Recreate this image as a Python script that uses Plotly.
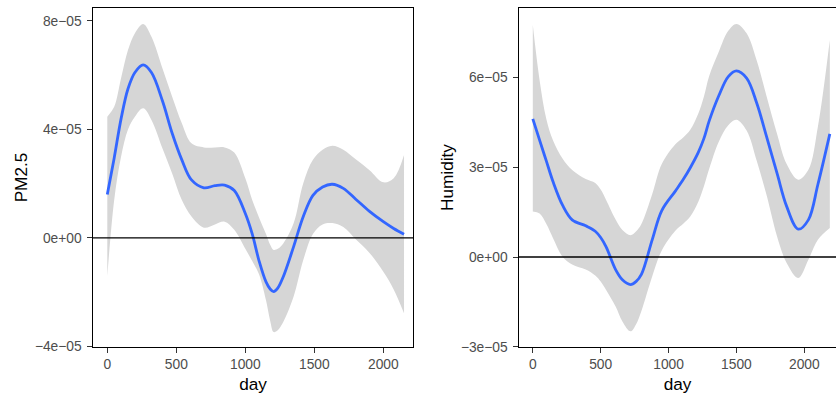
import plotly.graph_objects as go

# ---------------- data: PM2.5 panel ----------------
pm_day = [0, 50, 100, 150, 200, 260, 320, 400, 470, 540, 610, 700, 780, 850, 920,
          1000, 1050, 1100, 1150, 1180, 1205, 1235, 1275, 1350, 1420, 1490, 1560,
          1630, 1710, 1800, 1900, 2000, 2075, 2150]
pm_fit = [1.60, 2.95, 4.40, 5.50, 6.10, 6.38, 6.10, 5.05, 3.86, 2.88, 2.14, 1.85, 1.93,
          1.95, 1.75, 0.90, 0.15, -0.85, -1.62, -1.88, -1.98, -1.85, -1.43, -0.32, 0.79,
          1.57, 1.88, 1.98, 1.83, 1.43, 0.98, 0.60, 0.35, 0.14]
pm_upper = [4.47, 4.84, 5.90, 6.93, 7.55, 7.89, 7.42, 6.25, 5.21, 4.23, 3.49, 3.34, 3.34,
            3.34, 3.15, 2.20, 1.40, 0.75, 0.15, -0.25, -0.44, -0.40, -0.20, 0.54, 2.02,
            2.88, 3.25, 3.40, 3.25, 2.90, 2.50, 2.05, 2.20, 3.06]
pm_lower = [-1.40, 1.40, 3.00, 4.00, 4.47, 4.78, 4.35, 3.30, 2.38, 1.40, 0.79, 0.38, 0.50,
            0.60, 0.30, -0.40, -0.85, -1.35, -2.30, -3.05, -3.47, -3.40, -3.10, -2.16,
            -0.81, 0.15, 0.50, 0.55, 0.40, -0.05, -0.55, -1.25, -1.90, -2.78]

# ---------------- data: Humidity panel ----------------
hu_day = [0, 50, 100, 150, 220, 290, 390, 460, 500, 540, 610, 660, 720, 760, 800, 880,
          950, 1050, 1110, 1160, 1220, 1260, 1300, 1370, 1440, 1500, 1575, 1650, 1720,
          1800, 1870, 1955, 2030, 2100, 2188]
hu_fit = [4.61, 3.90, 3.20, 2.50, 1.72, 1.24, 1.04, 0.86, 0.65, 0.34, -0.42, -0.76,
          -0.92, -0.82, -0.58, 0.58, 1.55, 2.20, 2.60, 2.98, 3.50, 3.95, 4.55, 5.38,
          6.02, 6.21, 5.97, 5.13, 4.05, 2.78, 1.69, 0.93, 1.24, 2.42, 4.11]
hu_upper = [7.74, 5.90, 4.60, 3.88, 3.28, 2.90, 2.60, 2.47, 2.25, 1.90, 1.25, 0.90,
            0.73, 0.85, 1.10, 2.10, 3.10, 3.76, 4.00, 4.25, 4.80, 5.35, 6.05, 6.85, 7.55,
            7.78, 7.47, 6.55, 5.40, 4.10, 3.10, 2.58, 2.91, 4.35, 7.24]
hu_lower = [1.52, 1.45, 1.10, 0.62, 0.00, -0.25, -0.42, -0.62, -0.82, -1.10, -1.65,
            -2.15, -2.48, -2.25, -1.80, -0.64, 0.22, 0.88, 1.12, 1.35, 1.85, 2.35, 2.95,
            3.85, 4.40, 4.58, 4.22, 3.20, 2.10, 0.68, -0.20, -0.70, -0.09, 0.58, 0.97]
SCALE = 1e-5

x_tickvals = [0, 500, 1000, 1500, 2000]
x_ticktext = ["0", "500", "1000", "1500", "2000"]
pm_tickvals = [-4e-5, 0, 4e-5, 8e-5]
pm_ticktext = ["\u22124e\u221205", "0e+00", "4e\u221205", "8e\u221205"]
hu_tickvals = [-3e-5, 0, 3e-5, 6e-5]
hu_ticktext = ["\u22123e\u221205", "0e+00", "3e\u221205", "6e\u221205"]

BAND = "#D6D6D6"
LINE = "#3366FF"
FONT = "Liberation Sans, Arial, sans-serif"

fig = go.Figure()


def add_panel(days, fit, upper, lower, xa, ya):
    fig.add_trace(go.Scatter(x=days, y=[v * SCALE for v in lower], mode="lines",
                             line=dict(width=0, shape="spline", color=BAND),
                             xaxis=xa, yaxis=ya, showlegend=False, hoverinfo="skip"))
    fig.add_trace(go.Scatter(x=days, y=[v * SCALE for v in upper], mode="lines",
                             line=dict(width=0, shape="spline", color=BAND),
                             fill="tonexty", fillcolor=BAND,
                             xaxis=xa, yaxis=ya, showlegend=False, hoverinfo="skip"))
    fig.add_trace(go.Scatter(x=days, y=[v * SCALE for v in fit], mode="lines",
                             line=dict(width=2.8, shape="spline", color=LINE),
                             xaxis=xa, yaxis=ya, showlegend=False))


add_panel(pm_day, pm_fit, pm_upper, pm_lower, "x", "y")
add_panel(hu_day, hu_fit, hu_upper, hu_lower, "x2", "y2")

# zero reference lines
fig.add_shape(type="line", xref="x domain", yref="y", x0=0, x1=1, y0=0, y1=0,
              line=dict(color="black", width=1.3))
fig.add_shape(type="line", xref="x2 domain", yref="y2", x0=0, x1=1, y0=0, y1=0,
              line=dict(color="black", width=1.3))

W, H = 836, 394
ydom = [(H - 347) / H, (H - 8) / H]

axis_common = dict(showgrid=False, zeroline=False, showline=True, linecolor="black",
                   linewidth=1.1, ticks="outside", ticklen=4.5, tickwidth=1,
                   tickcolor="#333333", automargin=False,
                   tickfont=dict(family=FONT, size=13.8, color="#4D4D4D"))

fig.update_layout(
    width=W, height=H,
    margin=dict(l=0, r=0, t=0, b=0, autoexpand=False),
    paper_bgcolor="white", plot_bgcolor="white",
    font=dict(family=FONT),
    xaxis=dict(domain=[93 / W, 413 / W], range=[-103.6, 2215], mirror=True,
               tickvals=x_tickvals, ticktext=x_ticktext,
               title=dict(text="day", font=dict(size=17.2, color="black"), standoff=6),
               anchor="y", **axis_common),
    yaxis=dict(domain=ydom, range=[-4.02e-5, 8.479e-5], mirror=True,
               tickvals=pm_tickvals, ticktext=pm_ticktext, ticklabelstandoff=3,
               title=dict(text="PM2.5", font=dict(size=17.2, color="black"), standoff=2),
               anchor="x", **axis_common),
    xaxis2=dict(domain=[519 / W, 1.0], range=[-101.7, 2233.5], mirror=True,
                tickvals=x_tickvals, ticktext=x_ticktext,
                title=dict(text="day", font=dict(size=17.2, color="black"), standoff=6),
                anchor="y2", **axis_common),
    yaxis2=dict(domain=ydom, range=[-3.003e-5, 8.31e-5], mirror=False,
                tickvals=hu_tickvals, ticktext=hu_ticktext, ticklabelstandoff=3,
                title=dict(text="Humidity", font=dict(size=17.2, color="black"), standoff=2),
                anchor="x2", **axis_common),
)

fig.write_html("out.html", config={"displayModeBar": False},
               post_script="document.body.style.margin='0';document.body.style.overflow='hidden';")
